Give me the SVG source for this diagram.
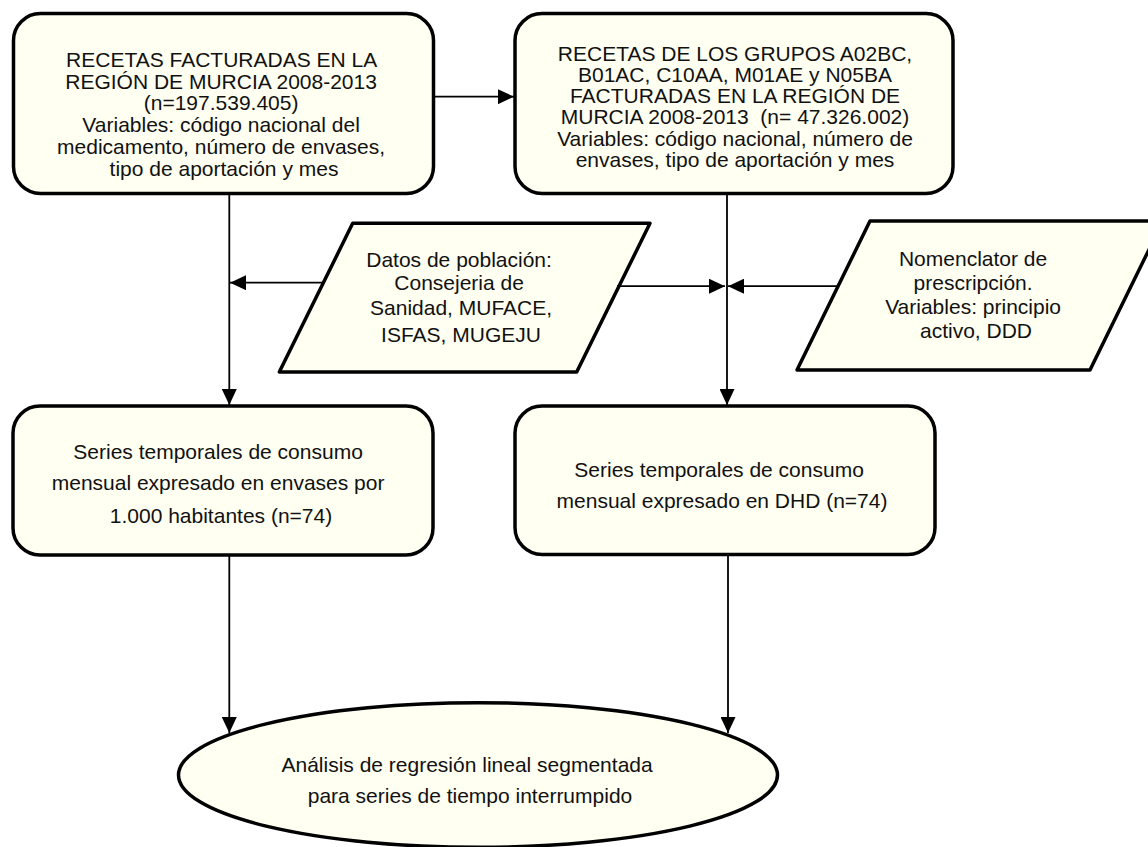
<svg xmlns="http://www.w3.org/2000/svg" width="1148" height="847" viewBox="0 0 1148 847">
<defs>
<style>
.shape{fill:#FFFFF2;stroke:#000;stroke-width:3.5;stroke-linejoin:round}
.lbl{font-family:"Liberation Sans",Arial,sans-serif;font-size:21px;fill:#111;text-anchor:middle}
.conn{stroke:#000;stroke-width:1.8;fill:none}
</style>
<marker id="arr" markerUnits="userSpaceOnUse" markerWidth="16" markerHeight="15" refX="16" refY="7.5" orient="auto">
<path d="M0,0 L16,7.5 L0,15 z" fill="#000"/>
</marker>
</defs>
<rect width="1148" height="847" fill="#fff"/>

<g id="node-recetas-facturadas">
<rect class="shape" x="13.5" y="13.5" width="420" height="180" rx="27" ry="27"/>
<text class="lbl">
<tspan x="224" y="66.7">RECETAS FACTURADAS EN LA</tspan>
<tspan x="224" y="88.5">REGIÓN DE MURCIA 2008-2013</tspan>
<tspan x="224" y="110.3">(n=197.539.405)</tspan>
<tspan x="224" y="132.1">Variables: código nacional del</tspan>
<tspan x="224" y="153.9">medicamento, número de envases,</tspan>
<tspan x="224" y="175.7">tipo de aportación y mes</tspan>
</text>
</g>

<g id="node-recetas-grupos">
<rect class="shape" x="515" y="13.5" width="438" height="180" rx="27" ry="27"/>
<text class="lbl" xml:space="preserve"><tspan x="735" y="61">RECETAS DE LOS GRUPOS A02BC,</tspan><tspan x="735" y="82.2">B01AC, C10AA, M01AE y N05BA</tspan><tspan x="735" y="103.4">FACTURADAS EN LA REGIÓN DE</tspan><tspan x="735" y="124.4">MURCIA 2008-2013  (n= 47.326.002)</tspan><tspan x="735" y="146">Variables: código nacional, número de</tspan><tspan x="735" y="167">envases, tipo de aportación y mes</tspan></text>
</g>

<g id="node-datos-poblacion">
<polygon class="shape" points="352.7,223.3 650,223.3 576.7,372 279.3,372"/>
<text class="lbl">
<tspan x="462" y="267.3">Datos de población:</tspan>
<tspan x="462" y="290">Consejeria de</tspan>
<tspan x="464" y="315">Sanidad, MUFACE,</tspan>
<tspan x="461" y="341.7">ISFAS, MUGEJU</tspan>
</text>
</g>

<g id="node-nomenclator">
<polygon class="shape" points="870,221 1163,221 1090,370 797,370"/>
<text class="lbl">
<tspan x="976" y="266">Nomenclator de</tspan>
<tspan x="976" y="290">prescripción.</tspan>
<tspan x="976" y="314">Variables: principio</tspan>
<tspan x="976" y="338.3">activo, DDD</tspan>
</text>
</g>

<g id="node-series-envases">
<rect class="shape" x="13" y="406" width="420" height="149" rx="27" ry="27"/>
<text class="lbl">
<tspan x="221" y="458.5">Series temporales de consumo</tspan>
<tspan x="221" y="490">mensual expresado en envases por</tspan>
<tspan x="221" y="523">1.000 habitantes (n=74)</tspan>
</text>
</g>

<g id="node-series-dhd">
<rect class="shape" x="515" y="406" width="420" height="148.5" rx="27" ry="27"/>
<text class="lbl">
<tspan x="722" y="476.7">Series temporales de consumo</tspan>
<tspan x="722" y="508.3">mensual expresado en DHD (n=74)</tspan>
</text>
</g>

<g id="node-analisis">
<ellipse class="shape" cx="478" cy="775" rx="299.5" ry="72.3"/>
<text class="lbl">
<tspan x="470" y="771.7">Análisis de regresión lineal segmentada</tspan>
<tspan x="470" y="803.3">para series de tiempo interrumpido</tspan>
</text>
</g>

<g id="connectors">
<line class="conn" x1="433.5" y1="96.7" x2="514" y2="96.7" marker-end="url(#arr)"/>
<line class="conn" x1="229.3" y1="193" x2="229.3" y2="405" marker-end="url(#arr)"/>
<line class="conn" x1="323.5" y1="282.7" x2="230" y2="282.7" marker-end="url(#arr)"/>
<line class="conn" x1="617" y1="286.2" x2="725" y2="286.2" marker-end="url(#arr)"/>
<line class="conn" x1="838" y1="286.2" x2="728" y2="286.2" marker-end="url(#arr)"/>
<line class="conn" x1="727" y1="193" x2="727" y2="405" marker-end="url(#arr)"/>
<line class="conn" x1="229.3" y1="555" x2="229.3" y2="733" marker-end="url(#arr)"/>
<line class="conn" x1="728" y1="555" x2="728" y2="733" marker-end="url(#arr)"/>
</g>
</svg>
